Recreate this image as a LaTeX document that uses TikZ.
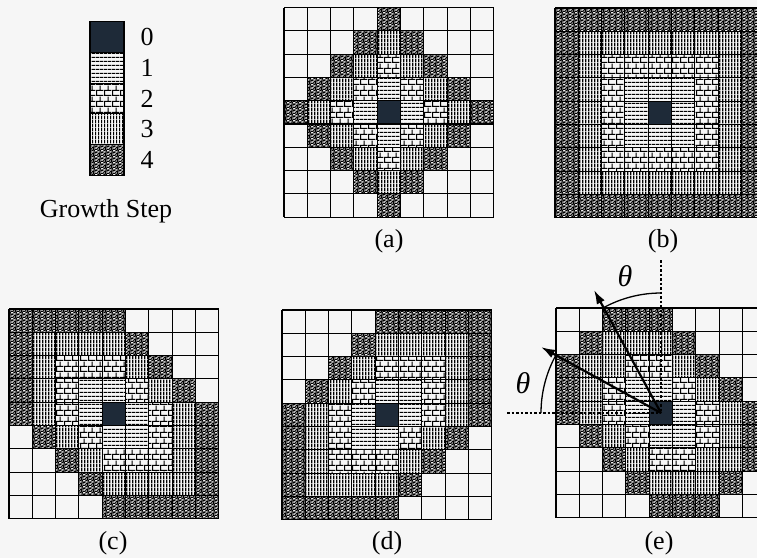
\documentclass[tikz,border=0pt]{standalone}
\usepackage{fontspec}
\setmainfont{Liberation Serif}
\usetikzlibrary{arrows.meta,patterns}
\definecolor{navy}{RGB}{30,42,56}
\definecolor{paper}{RGB}{246,246,246}
\pgfdeclarepatternformonly{hlines}{\pgfpointorigin}{\pgfpoint{4pt}{3.5pt}}{\pgfpoint{4pt}{3.5pt}}{%
  \pgfsetlinewidth{1.3pt}
  \pgfpathmoveto{\pgfpoint{0pt}{0.65pt}}\pgfpathlineto{\pgfpoint{4pt}{0.65pt}}
  \pgfusepath{stroke}}
\pgfdeclarepatternformonly{vlines}{\pgfpointorigin}{\pgfpoint{2.8pt}{4pt}}{\pgfpoint{2.8pt}{4pt}}{%
  \pgfsetlinewidth{1.3pt}
  \pgfpathmoveto{\pgfpoint{0.65pt}{0pt}}\pgfpathlineto{\pgfpoint{0.65pt}{4pt}}
  \pgfusepath{stroke}}
\pgfdeclarepatternformonly{brickwall}{\pgfpointorigin}{\pgfpoint{8pt}{11pt}}{\pgfpoint{8pt}{11pt}}{%
  \pgfsetlinewidth{1.1pt}
  \pgfpathmoveto{\pgfpoint{0pt}{0.55pt}}\pgfpathlineto{\pgfpoint{8pt}{0.55pt}}
  \pgfpathmoveto{\pgfpoint{0pt}{6pt}}\pgfpathlineto{\pgfpoint{8pt}{6pt}}
  \pgfpathmoveto{\pgfpoint{0.55pt}{0.55pt}}\pgfpathlineto{\pgfpoint{0.55pt}{6pt}}
  \pgfpathmoveto{\pgfpoint{4.55pt}{6pt}}\pgfpathlineto{\pgfpoint{4.55pt}{11pt}}
  \pgfusepath{stroke}}
\pgfdeclarepatternformonly{gravel}{\pgfpoint{-1pt}{-1pt}}{\pgfpoint{7pt}{7pt}}{\pgfpoint{6pt}{6pt}}{%
  \pgfsetlinewidth{1.2pt}
  \pgfsetroundcap
  \pgfpathmoveto{\pgfpoint{0.5pt}{0.5pt}}\pgfpathlineto{\pgfpoint{1.8pt}{1.4pt}}
  \pgfpathmoveto{\pgfpoint{3.2pt}{0.3pt}}\pgfpathlineto{\pgfpoint{3.6pt}{1.8pt}}
  \pgfpathmoveto{\pgfpoint{4.8pt}{1.0pt}}\pgfpathlineto{\pgfpoint{5.8pt}{0.4pt}}
  \pgfpathmoveto{\pgfpoint{1.0pt}{3.0pt}}\pgfpathlineto{\pgfpoint{0.3pt}{4.2pt}}
  \pgfpathmoveto{\pgfpoint{2.4pt}{2.6pt}}\pgfpathlineto{\pgfpoint{3.8pt}{3.2pt}}
  \pgfpathmoveto{\pgfpoint{5.0pt}{2.6pt}}\pgfpathlineto{\pgfpoint{5.4pt}{4.0pt}}
  \pgfpathmoveto{\pgfpoint{1.6pt}{5.0pt}}\pgfpathlineto{\pgfpoint{2.8pt}{5.6pt}}
  \pgfpathmoveto{\pgfpoint{4.0pt}{4.6pt}}\pgfpathlineto{\pgfpoint{4.4pt}{5.8pt}}
  \pgfusepath{stroke}}
\begin{document}
\begin{tikzpicture}[x=1pt,y=-1pt,
    cellline/.style={draw=black,line width=1.1pt},
    g0/.style={fill=navy},
    g1/.style={pattern=hlines},
    g2/.style={pattern=brickwall},
    g3/.style={pattern=vlines},
    g4/.style={pattern=gravel},
    g5/.style={},
    lbl/.style={font=\fontsize{26}{30}\selectfont},
    ray/.style={line width=2.2pt,-{Latex[length=14pt,width=9pt]}},
    guide/.style={line width=2.8pt,dash pattern=on 2.5pt off 2pt},
    anglemark/.style={line width=1.3pt}]
  \fill[paper,use as bounding box] (0,0) rectangle (757,558);
  \clip (0,0) rectangle (757,558);
  \def \Grids{
    a/284/7.5/1/1,
    b/555/8/0/0,
    c/9/309/1/0,
    d/282/310/0/1,
    e/556/308/1/2}
  \foreach \n / \gx / \gy / \pa / \pb in \Grids{
    \foreach \i in {0,...,8}{
      \foreach \j in {0,...,8}{
        \pgfmathtruncatemacro\ka{abs(\i-4)}
        \pgfmathtruncatemacro\kb{abs(\j-4)}
        \pgfmathtruncatemacro\mode{((\i-4)*(4-\j)>0) ? \pa : \pb}
        \ifcase\mode \pgfmathtruncatemacro\val{max(\ka,\kb)}%
        \or \pgfmathtruncatemacro\val{\ka+\kb}%
        \or \pgfmathtruncatemacro\val{max(\ka,\kb,round(2*(\ka+\kb)/3))}\fi
        \pgfmathtruncatemacro\val{min(\val,5)}
        \path[g\val] (\gx+\i*23.3, \gy+\j*23.3) rectangle ++(23.3,23.3);
      }
    }
    \foreach \k in {0,...,9}{
      \draw[cellline] (\gx+\k*23.3, \gy) -- ++(0,209.7);
      \draw[cellline] (\gx, \gy+\k*23.3) -- ++(209.7,0);
    }
  }
  \foreach \s in {0,...,4}{
    \draw[cellline,g\s] (90, 21.7+\s*30.7) rectangle ++(34,30.7);
    \node[lbl] (key\s) at (147, 37+\s*30.7) {\s};
  }
  \node[lbl] (legend) at (106,211) {Growth Step};
  \foreach \n / \x / \y in {a/389/241, b/663/241, c/113/543, d/387/543, e/659/543}{
    \node[lbl] (cap\n) at (\x,\y) {(\n)};
  }
  \coordinate (ctr) at (661,413);
  \coordinate (tipv) at (594,290);
  \coordinate (tiph) at (541,347);
  \coordinate (dotv) at (661,260);
  \coordinate (doth) at (507,413);
  \draw[guide] (dotv) -- (ctr);
  \draw[guide] (doth) -- (ctr);
  \draw[ray] (ctr) -- (tipv);
  \draw[ray] (ctr) -- (tiph);
  \draw[anglemark] (ctr) ++(0,-120) arc[start angle=-90,end angle=-118.6,radius=120];
  \draw[anglemark] (ctr) ++(-120,0) arc[start angle=180,end angle=208.8,radius=120];
  \node[lbl,font=\fontsize{30}{34}\selectfont\itshape] (thetav) at (625,276) {θ};
  \node[lbl,font=\fontsize{30}{34}\selectfont\itshape] (thetah) at (523,383) {θ};
\end{tikzpicture}
\end{document}
